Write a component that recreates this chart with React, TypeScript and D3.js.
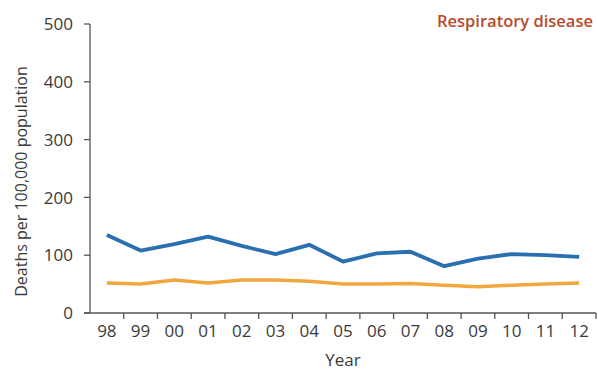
import React from "react";
import * as d3 from "d3";

const years = ["98", "99", "00", "01", "02", "03", "04", "05", "06", "07", "08", "09", "10", "11", "12"];
const blueSeries = [135, 108, 119, 132, 116, 102, 118, 89, 103, 106, 81, 94, 102, 100, 97];
const orangeSeries = [52, 50, 57, 52, 57, 57, 55, 50, 50, 51, 48, 45.5, 48, 50, 52];
const yTicks = [0, 100, 200, 300, 400, 500];
const title = "Respiratory disease";

const W = 598;
const H = 370;
const left = 90;
const right = 596;
const top = 24;
const bottom = 313;
const font = "'Open Sans', 'Noto Sans', sans-serif";
const axisColor = "#555";
const textColor = "#3a3a3a";

export default function App() {
  const x = d3.scaleBand<string>().domain(years).range([left, right]).padding(0);
  const y = d3.scaleLinear().domain([0, 500]).range([bottom, top]);
  const line = d3
    .line<number>()
    .x((_, i) => (x(years[i]) as number) + x.bandwidth() / 2)
    .y((d) => y(d));
  const boundaries = years.map((yr) => x(yr) as number).concat([right]);

  return (
    <svg width={W} height={H} style={{ position: "absolute", left: 0, top: 0 }}>
      <rect width={W} height={H} fill="#fff" />
      {/* y axis */}
      <line x1={left} x2={left} y1={top} y2={bottom} stroke={axisColor} strokeWidth={1.3} />
      {yTicks.map((t) => (
        <g key={t}>
          <line x1={left - 6} x2={left} y1={y(t)} y2={y(t)} stroke={axisColor} strokeWidth={1.3} />
          <text x={73} y={y(t)} dy="0.36em" textAnchor="end" fontFamily={font} fontSize={17} fill={textColor}>
            {t}
          </text>
        </g>
      ))}
      {/* x axis */}
      <line x1={left - 6} x2={right} y1={bottom} y2={bottom} stroke={axisColor} strokeWidth={1.3} />
      {boundaries.slice(1).map((b, i) => (
        <line key={i} x1={b} x2={b} y1={bottom} y2={bottom + 6} stroke={axisColor} strokeWidth={1.3} />
      ))}
      {years.map((yr) => (
        <text
          key={yr}
          x={(x(yr) as number) + x.bandwidth() / 2}
          y={337}
          textAnchor="middle"
          fontFamily={font}
          fontSize={17}
          fill={textColor}
        >
          {yr}
        </text>
      ))}
      <text x={343} y={366} textAnchor="middle" fontFamily={font} fontSize={17} fill={textColor}>
        Year
      </text>
      <text
        transform={`translate(27,${(top + bottom) / 2 + 13}) rotate(-90)`}
        textAnchor="middle"
        fontFamily={font}
        fontSize={16}
        fill={textColor}
      >
        Deaths per 100,000 population
      </text>
      <path d={line(orangeSeries) || ""} fill="none" stroke="#f2a640" strokeWidth={3.5} strokeLinejoin="round" />
      <path d={line(blueSeries) || ""} fill="none" stroke="#2a6fb0" strokeWidth={3.8} strokeLinejoin="round" />
      <text x={593} y={27} textAnchor="end" fontFamily={font} fontSize={16.5} fontWeight={600} fill="#b84a2a">
        {title}
      </text>
    </svg>
  );
}
